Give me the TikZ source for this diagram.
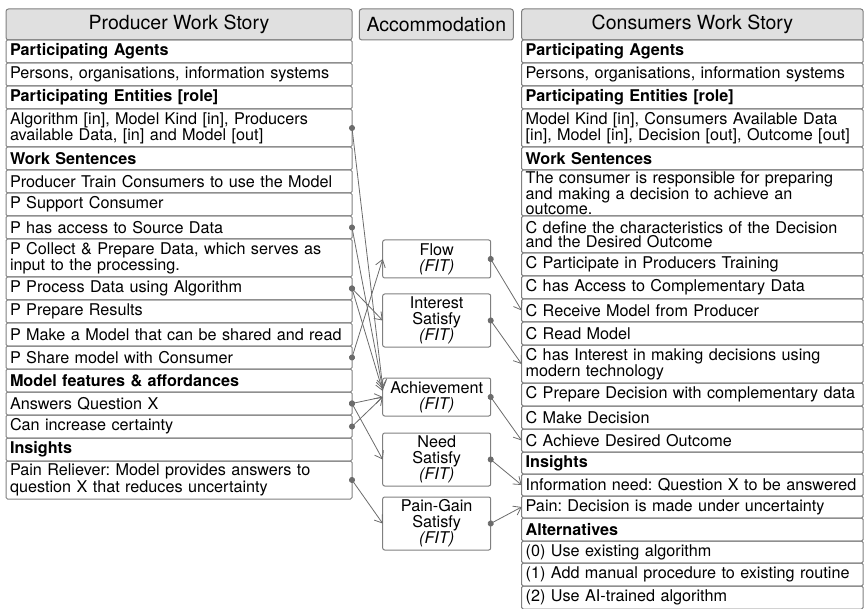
\documentclass[tikz,border=0pt]{standalone}
\usepackage{fontspec}
\setmainfont{TeX Gyre Heros}
\usetikzlibrary{positioning,arrows.meta}
\frenchspacing

\definecolor{boxline}{gray}{0.5}
\definecolor{headfill}{gray}{0.88}
\definecolor{linkgray}{gray}{0.42}

\tikzset{
  head/.style={draw=boxline, fill=headfill, line width=1pt, rounded corners=2.5pt,
    minimum height=31pt, inner sep=0pt, outer sep=0pt, font=\fontsize{19.5}{21}\selectfont},
  row/.style={draw=boxline, line width=1pt, rounded corners=1.5pt, text width=338pt,
    inner xsep=4pt, inner ysep=1pt, outer sep=0pt, minimum height=23pt, align=left,
    font=\fontsize{16.2}{14.5}\selectfont},
  rowtitle/.style={row, font=\fontsize{16.2}{14.5}\selectfont\bfseries},
  tworow/.style={row, minimum height=38pt},
  rrow/.style={row, text width=333.5pt},
  rrowtitle/.style={rowtitle, text width=333.5pt},
  rtworow/.style={tworow, text width=333.5pt},
  accbox/.style={draw=boxline, line width=1pt, rounded corners=2pt, minimum width=108pt,
    inner sep=0pt, outer sep=0pt, align=center, font=\fontsize{16.2}{16}\selectfont},
  link/.style={draw=linkgray, line width=0.8pt, shorten <=-3pt,
    {Circle[length=6pt]}-{Straight Barb[length=7pt,width=10pt]}}
}

\begin{document}
\begin{tikzpicture}[x=1pt, y=1pt]
\useasboundingbox (0,0) rectangle (864,-609);

% === LEFT: Producer Work Story ===
\node[head, minimum width=346pt] (prod) at (179,-24.5) {Producer Work Story};
\node[rowtitle, below=0pt of prod] (p-agents) {Participating Agents};
\node[row, below=0pt of p-agents] (p-persons) {Persons, organisations, information systems};
\node[rowtitle, below=0pt of p-persons] (p-entities) {Participating Entities [role]};
\node[tworow, below=0pt of p-entities] (p-algo) {Algorithm [in], Model Kind [in], Producers\\available Data, [in] and Model [out]};
\node[rowtitle, below=0pt of p-algo] (p-work) {Work Sentences};
\node[row, below=0pt of p-work] (p-train) {Producer Train Consumers to use the Model};
\node[row, below=0pt of p-train] (p-support) {P Support Consumer};
\node[row, below=0pt of p-support] (p-access) {P has access to Source Data};
\node[tworow, below=0pt of p-access] (p-collect) {P Collect \& Prepare Data, which serves as\\input to the processing.};
\node[row, below=0pt of p-collect] (p-process) {P Process Data using Algorithm};
\node[row, below=0pt of p-process] (p-results) {P Prepare Results};
\node[row, below=0pt of p-results] (p-make) {P Make a Model that can be shared and read};
\node[row, below=0pt of p-make] (p-share) {P Share model with Consumer};
\node[rowtitle, below=0pt of p-share] (p-features) {Model features \& affordances};
\node[row, below=0pt of p-features] (p-answers) {Answers Question X};
\node[row, below=0pt of p-answers] (p-certainty) {Can increase certainty};
\node[rowtitle, below=0pt of p-certainty] (p-insights) {Insights};
\node[tworow, below=0pt of p-insights] (p-relief) {Pain Reliever: Model provides answers to\\question X that reduces uncertainty};

% === CENTER: Accommodation ===
\node[head, minimum width=154pt] (acc) at (436.3,-24.5) {Accommodation};
\node[accbox, minimum height=38pt] (flow) at (436.7,-259) {Flow\\\textit{(FIT)}};
\node[accbox, minimum height=53pt] (interest) at (436.7,-320.5) {Interest\\Satisfy\\\textit{(FIT)}};
\node[accbox, minimum height=38pt] (ach) at (436.7,-397) {Achievement\\\textit{(FIT)}};
\node[accbox, minimum height=53pt] (need) at (436.7,-459.5) {Need\\Satisfy\\\textit{(FIT)}};
\node[accbox, minimum height=53pt] (paingain) at (436.7,-523.5) {Pain-Gain\\Satisfy\\\textit{(FIT)}};

% === RIGHT: Consumers Work Story ===
\node[head, minimum width=341.5pt] (cons) at (692.4,-24.5) {Consumers Work Story};
\node[rrowtitle, below=0pt of cons] (c-agents) {Participating Agents};
\node[rrow, below=0pt of c-agents] (c-persons) {Persons, organisations, information systems};
\node[rrowtitle, below=0pt of c-persons] (c-entities) {Participating Entities [role]};
\node[rtworow, below=0pt of c-entities] (c-kind) {Model Kind [in], Consumers Available Data\\{}[in], Model [in], Decision [out], Outcome [out]};
\node[rrowtitle, below=0pt of c-kind] (c-work) {Work Sentences};
\node[rrow, minimum height=46pt, below=0pt of c-work] (c-resp) {The consumer is responsible for preparing\\and making a decision to achieve an\\outcome.};
\node[rtworow, minimum height=37pt, below=0pt of c-resp] (c-define) {C define the characteristics of the Decision\\and the Desired Outcome};
\node[rrow, below=0pt of c-define] (c-train) {C Participate in Producers Training};
\node[rrow, below=0pt of c-train] (c-access) {C has Access to Complementary Data};
\node[rrow, below=0pt of c-access] (c-receive) {C Receive Model from Producer};
\node[rrow, below=0pt of c-receive] (c-read) {C Read Model};
\node[rtworow, below=0pt of c-read] (c-interest) {C has Interest in making decisions using\\modern technology};
\node[rrow, below=0pt of c-interest] (c-prepare) {C Prepare Decision with complementary data};
\node[rrow, below=0pt of c-prepare] (c-decide) {C Make Decision};
\node[rrow, below=0pt of c-decide] (c-achieve) {C Achieve Desired Outcome};
\node[rrowtitle, minimum height=22pt, below=0pt of c-achieve] (c-insights) {Insights};
\node[rrow, minimum height=22pt, below=0pt of c-insights] (c-need) {Information need: Question X to be answered};
\node[rrow, minimum height=22pt, below=0pt of c-need] (c-pain) {Pain: Decision is made under uncertainty};
\node[rrowtitle, below=0pt of c-pain] (c-alt) {Alternatives};
\node[rrow, minimum height=22pt, below=0pt of c-alt] (c-alt0) {(0) Use existing algorithm};
\node[rrow, below=0pt of c-alt0] (c-alt1) {(1) Add manual procedure to existing routine};
\node[rrow, below=0pt of c-alt1] (c-alt2) {(2) Use AI-trained algorithm};

% producer -> accommodation
\draw[link] (p-algo.east) -- ([yshift=10pt]ach.west);
\draw[link] (p-access.east) -- ([yshift=8pt]ach.west);
\draw[link] (p-process.east) -- (interest.west);
\draw[link] (p-process.east) -- ([yshift=6pt]ach.west);
\draw[link] (p-share.east) -- (flow.west);
\draw[link] (p-answers.east) -- (ach.west);
\draw[link] (p-answers.east) -- (need.west);
\draw[link] (p-certainty.east) -- (ach.west);
\draw[link] (p-relief.east) -- (paingain.west);

% accommodation -> consumer
\draw[link] (flow.east) -- (c-receive.west);
\draw[link] (interest.east) -- (c-interest.west);
\draw[link] (ach.east) -- (c-achieve.west);
\draw[link] (need.east) -- (c-need.west);
\draw[link] (paingain.east) -- (c-pain.west);

\end{tikzpicture}
\end{document}
